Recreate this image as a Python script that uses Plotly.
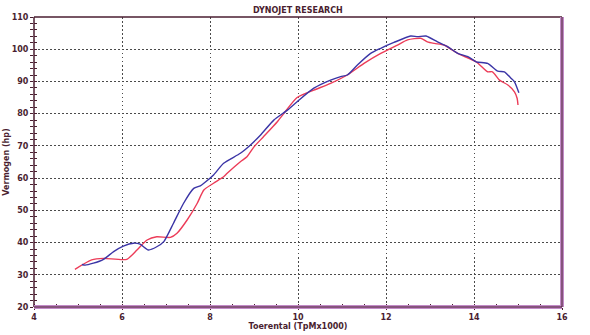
import plotly.graph_objects as go

blue_rpm = [5.09, 5.16, 5.35, 5.58, 5.81, 6.03, 6.26, 6.41, 6.60, 6.79, 6.95, 7.17, 7.40, 7.63, 7.78,
            7.86, 8.08, 8.31, 8.69, 8.92, 9.15, 9.45, 9.76, 9.98, 10.36, 10.74, 10.97, 11.12, 11.35,
            11.65, 11.88, 12.18, 12.56, 12.72, 12.91, 13.17, 13.40, 13.63, 13.86, 14.05, 14.31, 14.54,
            14.69, 14.84, 14.92, 15.02]
blue_hp = [33.2, 33.0, 33.6, 34.8, 37.2, 38.9, 39.8, 39.5, 37.7, 38.7, 40.3, 46.0, 52.2, 56.8, 57.6,
           58.4, 61.0, 64.6, 67.7, 70.3, 73.4, 78.0, 81.1, 83.7, 87.9, 90.4, 91.5, 92.0, 95.1,
           98.7, 100.3, 102.1, 104.1, 103.9, 104.1, 102.3, 100.8, 98.7, 97.7, 96.1, 95.6, 93.2,
           93.0, 91.0, 89.9, 86.5]

red_rpm = [4.93, 5.31, 5.58, 6.11, 6.34, 6.57, 6.79, 7.10, 7.25, 7.48, 7.71, 7.86, 8.08, 8.31, 8.39,
           8.69, 8.84, 9.00, 9.22, 9.53, 9.68, 9.98, 10.36, 10.74, 11.12, 11.50, 11.88, 12.26, 12.49,
           12.79, 12.94, 13.10, 13.32, 13.63, 14.05, 14.31, 14.42, 14.58, 14.77, 14.92, 14.98, 15.00]
red_hp = [31.7, 34.6, 35.1, 34.8, 37.7, 40.8, 41.8, 41.6, 42.9, 47.0, 52.2, 56.3, 58.4, 60.4, 61.5,
          65.1, 66.6, 69.7, 72.9, 77.5, 80.1, 85.0, 87.3, 89.4, 92.0, 95.6, 98.7, 101.3, 102.9,
          103.4, 102.3, 101.8, 101.3, 98.7, 96.1, 93.0, 93.0, 90.4, 88.9, 86.8, 84.8, 82.7]

x_ticks = [4, 6, 8, 10, 12, 14, 16]
y_ticks = [20, 30, 40, 50, 60, 70, 80, 90, 100, 110]

title_text = "DYNOJET RESEARCH"
x_title = "Toerental (TpMx1000)"
y_title = "Vermogen (hp)"

dark = "#4a1e30"
lilac = "#c28ac8"
font = "DejaVu Sans"
grid_dash = "1.5px,2.5px"

fig = go.Figure()
fig.add_trace(go.Scatter(x=red_rpm, y=red_hp, mode="lines",
                         line=dict(color="#ec3c58", width=1.4, shape="spline", smoothing=0.6),
                         showlegend=False, hoverinfo="skip"))
fig.add_trace(go.Scatter(x=blue_rpm, y=blue_hp, mode="lines",
                         line=dict(color="#3b35a6", width=1.4, shape="spline", smoothing=0.6),
                         showlegend=False, hoverinfo="skip"))
fig.add_trace(go.Scatter(x=[None], y=[None], yaxis="y2", showlegend=False, hoverinfo="skip"))

axis_font = dict(family=font, size=8, color=dark)
fig.update_layout(
    width=590, height=335,
    margin=dict(l=34, r=28, t=17, b=28),
    paper_bgcolor="white", plot_bgcolor="white",
    font=dict(family=font, color=dark),
    xaxis=dict(range=[4, 16], tickvals=x_ticks, ticktext=["<b>%d</b>" % v for v in x_ticks],
               ticks="outside", ticklen=2, tickcolor=dark, automargin=False,
               tickfont=axis_font, showgrid=True, gridcolor="#4a4a4a", griddash=grid_dash, gridwidth=1.2,
               zeroline=False, showline=False,
               minor=dict(dtick=0.5, ticks="inside", ticklen=3, tickcolor=dark, showgrid=False),
               title=dict(text="<b>" + x_title + "</b>", font=dict(family=font, size=8, color=dark),
                          standoff=0)),
    yaxis=dict(range=[20, 110], tickvals=y_ticks, ticktext=["<b>%d</b>" % v for v in y_ticks],
               ticks="outside", ticklen=3, tickcolor=dark, automargin=False,
               tickfont=axis_font, showgrid=True, gridcolor="#4a4a4a", griddash=grid_dash, gridwidth=1.2,
               zeroline=False, showline=False,
               minor=dict(dtick=2, ticks="outside", ticklen=3, tickcolor=dark, showgrid=False),
               title=dict(text="<b>" + y_title + "</b>", font=dict(family=font, size=8, color=dark),
                          standoff=0)),
    yaxis2=dict(range=[20, 110], overlaying="y", side="left", tickvals=y_ticks, ticks="inside",
                ticklen=3, tickcolor=dark, showticklabels=False, showgrid=False, zeroline=False,
                automargin=False,
                minor=dict(dtick=2, ticks="inside", ticklen=3, tickcolor=dark)),
)

fig.add_annotation(text="<b>" + title_text + "</b>", xref="paper", yref="paper", x=0.5, y=1.0,
                   yanchor="bottom", showarrow=False, yshift=0,
                   font=dict(family=font, size=8, color=dark))

# frame
fig.add_shape(type="line", xref="paper", yref="paper", x0=0, x1=1, y0=1, y1=1,
              line=dict(color=dark, width=1.5))
fig.add_shape(type="line", xref="paper", yref="paper", x0=0, x1=0, y0=0, y1=1,
              line=dict(color=dark, width=1.5))
fig.add_shape(type="line", xref="paper", yref="paper", x0=0, x1=1, y0=0, y1=0,
              line=dict(color=lilac, width=4))
fig.add_shape(type="line", xref="paper", yref="paper", x0=1, x1=1, y0=0, y1=1,
              line=dict(color=lilac, width=4))
fig.add_shape(type="line", xref="paper", yref="paper", x0=0, x1=1, y0=0, y1=0,
              line=dict(color=dark, width=1))
fig.add_shape(type="line", xref="paper", yref="paper", x0=1, x1=1, y0=0, y1=1,
              line=dict(color=dark, width=1))

fig.write_html("out.html", config={"displayModeBar": False},
               post_script="document.body.style.margin='0';")
